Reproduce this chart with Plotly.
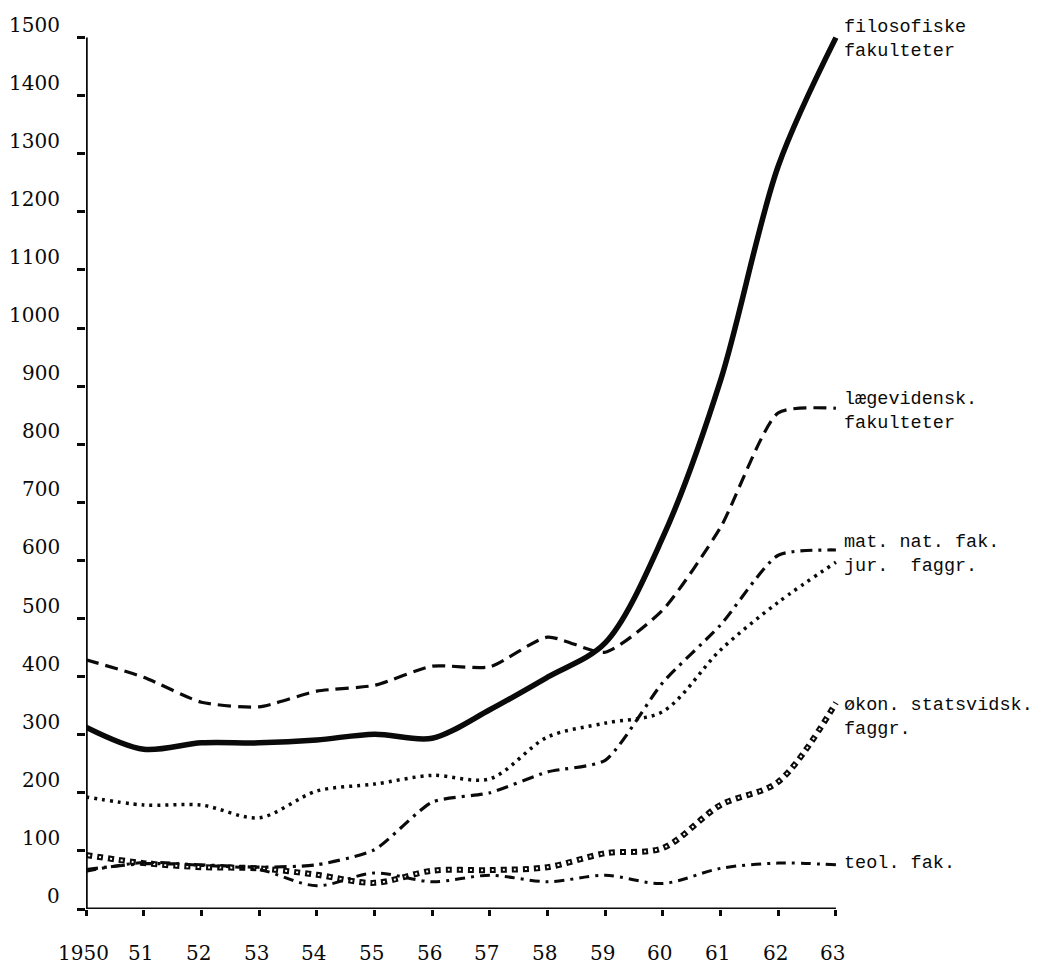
import plotly.graph_objects as go

years = list(range(1950, 1964))
year_labels = ["1950", "51", "52", "53", "54", "55", "56", "57", "58", "59", "60", "61", "62", "63"]
y_ticks = list(range(0, 1600, 100))
y_labels = [str(v) for v in y_ticks]

filosofiske = [313, 275, 286, 286, 291, 301, 294, 343, 399, 458, 640, 910, 1279, 1500]
laegevidensk = [429, 399, 356, 348, 375, 385, 418, 417, 468, 442, 515, 657, 854, 862]
mat_nat = [68, 78, 76, 72, 76, 102, 184, 200, 236, 256, 390, 489, 609, 618]
jur = [193, 179, 179, 157, 203, 215, 230, 224, 296, 320, 340, 446, 528, 597]
okon = [93, 79, 72, 70, 59, 45, 66, 67, 72, 96, 105, 179, 219, 355]
teol = [65, 80, 75, 68, 40, 62, 47, 58, 47, 58, 44, 70, 79, 76]

series_labels = [
    ("filosofiske<br>fakulteter", 1963, 1496),
    ("lægevidensk.<br>fakulteter", 1963, 856),
    ("mat. nat. fak.<br>jur.\u00a0\u00a0faggr.", 1963, 610),
    ("økon. statsvidsk.<br>faggr.", 1963, 329),
    ("teol. fak.", 1963, 79),
]

BLACK = "#0a0a0a"
fig = go.Figure()

def add(y, width, dash, color=BLACK, smoothing=0.9):
    fig.add_trace(go.Scatter(
        x=years, y=y, mode="lines",
        line=dict(color=color, width=width, dash=dash, shape="spline", smoothing=smoothing),
        hoverinfo="skip", showlegend=False))

add(laegevidensk, 3.2, "13px,7px", smoothing=0.6)
add(mat_nat, 3.2, "12px,6px,3px,6px", smoothing=0.6)
add(jur, 3.5, "3px,5px")
add(okon, 6, "6px,5px")
add(okon, 2, "0px,2px,2px,7px", color="white")
add(teol, 3, "10px,6px,3px,6px")
add(filosofiske, 5.5, "solid")

# axis lines as shapes
fig.add_shape(type="line", x0=1950, x1=1950, y0=0, y1=1500, xref="x", yref="y",
              line=dict(color=BLACK, width=3.5))
fig.add_shape(type="line", x0=1950, x1=1963, y0=0, y1=0, xref="x", yref="y",
              line=dict(color=BLACK, width=3))

tick_font = dict(family="DejaVu Serif", size=20, color=BLACK)
for v, lab in zip(y_ticks, y_labels):
    fig.add_annotation(x=0, xref="paper", y=v, yref="y", text=lab, showarrow=False,
                       xanchor="right", yanchor="middle", xshift=-24, yshift=13, font=tick_font)
for yr, lab in zip(years, year_labels):
    fig.add_annotation(x=yr, xref="x", y=0, yref="paper", text=lab, showarrow=False,
                       xanchor="center", yanchor="middle", xshift=-3, yshift=-44, font=tick_font)

label_font = dict(family="Liberation Mono", size=18.5, color=BLACK)
for text, x, y in series_labels:
    fig.add_annotation(x=x, xref="x", y=y, yref="y", text=text, showarrow=False,
                       xanchor="left", yanchor="middle", align="left", xshift=6, font=label_font)

# the page body has an 8px margin; size the figure so that it fits the window
fig.update_layout(
    width=1028, height=956,
    margin=dict(l=78, r=177, t=18, b=55),
    paper_bgcolor="white", plot_bgcolor="white",
    xaxis=dict(range=[1950, 1963.4], showgrid=False, zeroline=False, showline=False,
               tickvals=years, ticks="outside", ticklen=6, tickwidth=2.5, tickcolor=BLACK,
               showticklabels=False),
    yaxis=dict(range=[0, 1520], showgrid=False, zeroline=False, showline=False,
               tickvals=y_ticks, ticks="outside", ticklen=8, tickwidth=2.5, tickcolor=BLACK,
               showticklabels=False),
)

fig.write_html("out.html")
